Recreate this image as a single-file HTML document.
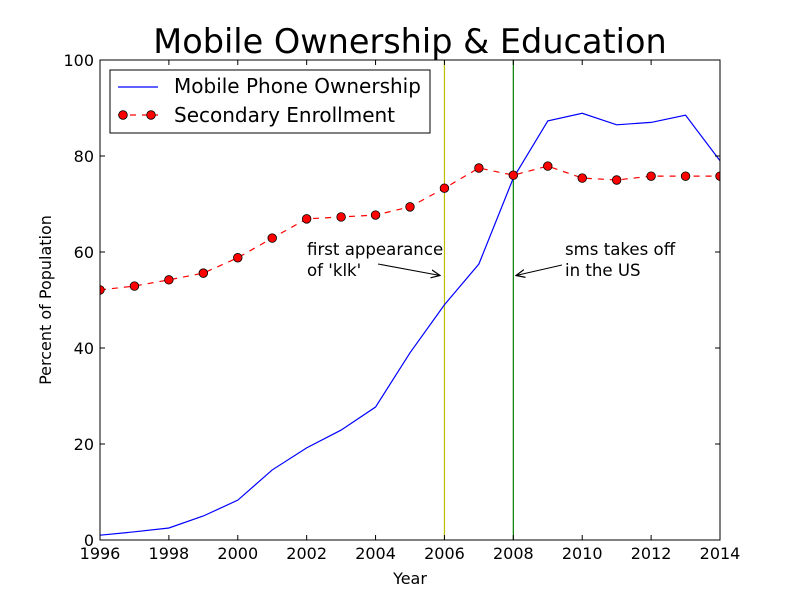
<!DOCTYPE html>
<html><head><meta charset="utf-8"><style>
body{margin:0;background:#fff;}
svg{display:block;font-family:"DejaVu Sans","Liberation Sans",sans-serif;}
</style></head><body>
<svg id="chart" width="800" height="600" viewBox="0 0 800 600">
<rect width="800" height="600" fill="#fff"/>
<text x="410" y="53" font-size="33.5" text-anchor="middle">Mobile Ownership &amp; Education</text>
<g id="plot"></g>
</svg>
<script>
const years=[1996,1997,1998,1999,2000,2001,2002,2003,2004,2005,2006,2007,2008,2009,2010,2011,2012,2013,2014];
const mobile=[1.0,1.7,2.5,5.0,8.3,14.6,19.2,22.9,27.7,39.0,49.0,57.5,75.4,87.3,88.9,86.5,87.0,88.5,79.0];
const enrollment=[52.1,52.9,54.2,55.6,58.8,62.9,66.9,67.3,67.7,69.4,73.3,77.5,76.0,77.9,75.4,75.0,75.8,75.8,75.8];
const xTicks=[1996,1998,2000,2002,2004,2006,2008,2010,2012,2014];
const yTicks=[0,20,40,60,80,100];

const L=100,R=720,T=60,B=540;
const X=v=>L+(v-1996)/(2014-1996)*(R-L);
const Y=v=>B-v/100*(B-T);
const NS="http://www.w3.org/2000/svg";
const g=document.getElementById('plot');
function mk(tag,attrs,parent){const e=document.createElementNS(NS,tag);for(const k in attrs)e.setAttribute(k,attrs[k]);(parent||g).appendChild(e);return e;}

const defs=mk('defs',{});
const cp=mk('clipPath',{id:'clip'},defs);
mk('rect',{x:L,y:T,width:R-L,height:B-T},cp);

let e=mk('line',{x1:X(2006),x2:X(2006),y1:T,y2:B,stroke:'#bfbf00','stroke-width':1.2});


e=mk('line',{x1:X(2008),x2:X(2008),y1:T,y2:B,stroke:'#007f00','stroke-width':1.2});



e=mk('polyline',{points:years.map((y,i)=>X(y)+','+Y(mobile[i])).join(' '),fill:'none',stroke:'#0000ff','stroke-width':1.2,'clip-path':'url(#clip)'});



e=mk('polyline',{points:years.map((y,i)=>X(y)+','+Y(enrollment[i])).join(' '),fill:'none',stroke:'#ff0000','stroke-width':1.2,'stroke-dasharray':'6,6','clip-path':'url(#clip)'});


years.forEach((y,i)=>{
  const c=mk('circle',{cx:X(y),cy:Y(enrollment[i]),r:4.3,fill:'#ff0000',stroke:'#000','stroke-width':0.8,'clip-path':'url(#clip)'});
  
  
});

e=mk('rect',{x:L,y:T,width:R-L,height:B-T,fill:'none',stroke:'#000','stroke-width':1});



xTicks.forEach(t=>{
  const x=X(t);
  mk('line',{x1:x,x2:x,y1:B,y2:B-5,stroke:'#000'});
  mk('line',{x1:x,x2:x,y1:T,y2:T+5,stroke:'#000'});
  const tx=mk('text',{x:x,y:B+19,'font-size':16,'text-anchor':'middle'});tx.textContent=t;
  
  
});
yTicks.forEach(t=>{
  const y=Y(t);
  mk('line',{x1:L,x2:L+5,y1:y,y2:y,stroke:'#000'});
  mk('line',{x1:R,x2:R-5,y1:y,y2:y,stroke:'#000'});
  const tx=mk('text',{x:L-6,y:y+6,'font-size':16,'text-anchor':'end'});tx.textContent=t;
  
  
});

let t=mk('text',{x:410,y:584,'font-size':16,'text-anchor':'middle'});t.textContent='Year';


t=mk('text',{x:51,y:300,'font-size':16,'text-anchor':'middle',transform:'rotate(-90 51 300)'});t.textContent='Percent of Population';



mk('defs',{}).innerHTML='<marker id="arr" markerWidth="10" markerHeight="10" refX="9" refY="5" orient="auto" markerUnits="userSpaceOnUse"><path d="M0,1 L9,5 L0,9" fill="none" stroke="#000" stroke-width="1.2"/></marker>';
t=mk('text',{x:307,y:255,'font-size':16.6});t.textContent='first appearance';


t=mk('text',{x:307,y:276,'font-size':16.6});t.textContent="of 'klk'";
mk('line',{x1:378,y1:264,x2:440,y2:275.5,stroke:'#000','marker-end':'url(#arr)'});
t=mk('text',{x:565,y:255,'font-size':16.6});t.textContent='sms takes off';


t=mk('text',{x:565,y:276,'font-size':16.6});t.textContent='in the US';
mk('line',{x1:562,y1:265,x2:516,y2:275.5,stroke:'#000','marker-end':'url(#arr)'});

const lg=mk('g',{});


mk('rect',{x:110,y:70,width:320,height:63,fill:'#fff',stroke:'#000'},lg);
mk('line',{x1:118,x2:158,y1:87,y2:87,stroke:'#0000ff','stroke-width':1.2},lg);
t=mk('text',{x:174,y:93,'font-size':20},lg);t.textContent='Mobile Phone Ownership';


mk('line',{x1:118,x2:158,y1:115,y2:115,stroke:'#ff0000','stroke-width':1.2,'stroke-dasharray':'6,6'},lg);
mk('circle',{cx:123,cy:115,r:4.3,fill:'#ff0000',stroke:'#000','stroke-width':0.8},lg);
mk('circle',{cx:151,cy:115,r:4.3,fill:'#ff0000',stroke:'#000','stroke-width':0.8},lg);
t=mk('text',{x:174,y:122,'font-size':20},lg);t.textContent='Secondary Enrollment';


</script>
</body></html>
